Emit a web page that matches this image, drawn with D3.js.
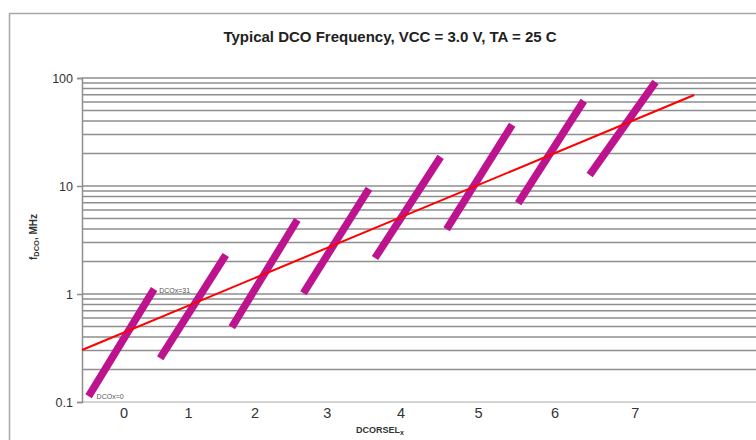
<!DOCTYPE html>
<html>
<head>
<meta charset="utf-8">
<script src="https://cdn.jsdelivr.net/npm/d3@7"></script>
<style>
    body { margin: 0; background: #fff; }
    svg { display: block; font-family: "Liberation Sans", Arial, sans-serif; }
</style>
</head>
<body>
<div id="chart"></div>
<script>
// DCORSELx ranges, one segment per range (DCOx = 0 .. 31)
const rselValues = [0, 1, 2, 3, 4, 5, 6, 7];
const freqAtDco0 = [0.121, 0.272, 0.527, 1.09, 2.30, 4.26, 7.42, 13.5];
const freqAtDco31 = [1.04, 2.15, 4.54, 8.8, 17.4, 34.5, 57.4, 86];
const dcoSteps = [0, 31];

// red trend line (x in DCORSEL units, MHz)
const trendX = [-0.55, 8.0];
const trendY = [0.303, 69.6];

// tick labels as they sit on the reference axis
const xTickLabels = ['0', '1', '2', '3', '4', '5', '6', '7'];
const xTickPos = [0.03, 0.93, 1.86, 2.87, 3.9, 4.98, 6.05, 7.17];
const yTickLabels = ['0.1', '1', '10', '100'];
const yTickValues = [0.1, 1, 10, 100];

const svgWidth = 756;
const svgHeight = 440;
const margin = {top: 78, left: 82, bottom: 38};
const plotBottom = svgHeight - margin.bottom;

const svg = d3.select('#chart').append('svg')
    .attr('width', svgWidth)
    .attr('height', svgHeight);

// outer chart frame (runs off the right and bottom edge)
svg.append('rect')
    .attr('x', 9.5).attr('y', 13.5)
    .attr('width', 800).attr('height', 500)
    .attr('fill', '#fff')
    .attr('stroke', '#a8a8a8')
    .attr('stroke-width', 1.5);

svg.append('text')
    .attr('x', 390).attr('y', 42)
    .attr('text-anchor', 'middle')
    .style('font-size', '15px')
    .style('font-weight', 'bold')
    .attr('fill', '#222')
    .text('Typical DCO Frequency, VCC = 3.0 V, TA = 25 C');

const x = d3.scaleLinear()
    .domain([-0.55, 8.9])
    .range([margin.left, margin.left + 71.6 * 9.45]);

const y = d3.scaleLog()
    .domain([0.1, 100])
    .range([plotBottom, margin.top]);

// gridlines at every 1..9 of each decade
const grid = svg.append('g').attr('class', 'grid');
grid.selectAll('line')
    .data(y.ticks())
    .enter()
    .append('line')
    .attr('x1', margin.left)
    .attr('x2', svgWidth)
    .attr('y1', d => y(d))
    .attr('y2', d => y(d))
    .attr('stroke', d => d === 0.1 ? '#c4c4c4' : '#8e8e8e')
    .attr('stroke-width', 1.6);

// y axis
const yAxis = d3.axisLeft(y)
    .tickValues(yTickValues)
    .tickSize(5)
    .tickPadding(4)
    .tickFormat((d, i) => yTickLabels[i]);

const yAxisGroup = svg.append('g')
    .attr('transform', 'translate(' + margin.left + ',0)')
    .call(yAxis);
yAxisGroup.select('.domain').attr('stroke', '#8e8e8e').attr('stroke-width', 1.5);
yAxisGroup.selectAll('.tick line').attr('stroke', '#8e8e8e').attr('stroke-width', 1.5);
yAxisGroup.selectAll('.tick text')
    .style('font-size', '12.5px')
    .attr('fill', '#333');

// x tick labels (no axis line in the reference)
const xAxis = d3.axisBottom(x)
    .tickValues(xTickPos)
    .tickSize(0)
    .tickPadding(6)
    .tickFormat((d, i) => xTickLabels[i]);

const xAxisGroup = svg.append('g')
    .attr('transform', 'translate(0,' + plotBottom + ')')
    .call(xAxis);
xAxisGroup.select('.domain').remove();
xAxisGroup.selectAll('.tick text')
    .style('font-size', '14.5px')
    .attr('fill', '#333');

// axis titles
const xTitle = svg.append('text')
    .attr('x', 380).attr('y', 433)
    .attr('text-anchor', 'middle')
    .style('font-size', '9px')
    .style('font-weight', 'bold')
    .attr('fill', '#333');
xTitle.append('tspan').text('DCORSEL');
xTitle.append('tspan').attr('dy', 2).style('font-size', '7px').text('x');

const yTitle = svg.append('text')
    .attr('transform', 'translate(37,237) rotate(-90)')
    .attr('text-anchor', 'middle')
    .style('font-size', '10px')
    .style('font-weight', 'bold')
    .attr('fill', '#333');
yTitle.append('tspan').text('f');
yTitle.append('tspan').attr('dy', 2).style('font-size', '7.5px').text('DCO');
yTitle.append('tspan').attr('dy', -2).text(', MHz');

// DCO segments
const dcoToX = (rsel, dco) => x(rsel - 0.43 + 0.86 * dco / dcoSteps[1]);

const segments = rselValues.map((r, i) => [
    {rsel: r, dco: dcoSteps[0], f: freqAtDco0[i]},
    {rsel: r, dco: dcoSteps[1], f: freqAtDco31[i]}
]);

const line = d3.line()
    .x(d => dcoToX(d.rsel, d.dco))
    .y(d => y(d.f));

svg.append('g').attr('class', 'segments')
    .selectAll('path')
    .data(segments)
    .enter()
    .append('path')
    .attr('d', line)
    .attr('fill', 'none')
    .attr('stroke', '#bd138f')
    .attr('stroke-width', 7.5)
    .attr('stroke-linecap', 'square');

// small annotations on the first range
svg.append('text')
    .attr('x', dcoToX(0, dcoSteps[0]) + 6)
    .attr('y', y(freqAtDco0[0]) + 6)
    .style('font-size', '7px')
    .attr('fill', '#555')
    .text('DCOx=0');

svg.append('text')
    .attr('x', dcoToX(0, dcoSteps[1]) + 7)
    .attr('y', y(freqAtDco31[0]) + 1)
    .style('font-size', '7px')
    .attr('fill', '#555')
    .text('DCOx=31');

// trend line
const trend = trendX.map((d, i) => ({x: d, f: trendY[i]}));
svg.append('path')
    .datum(trend)
    .attr('d', d3.line().x(d => x(d.x)).y(d => y(d.f)))
    .attr('fill', 'none')
    .attr('stroke', '#ff0000')
    .attr('stroke-width', 2);
</script>
</body>
</html>
